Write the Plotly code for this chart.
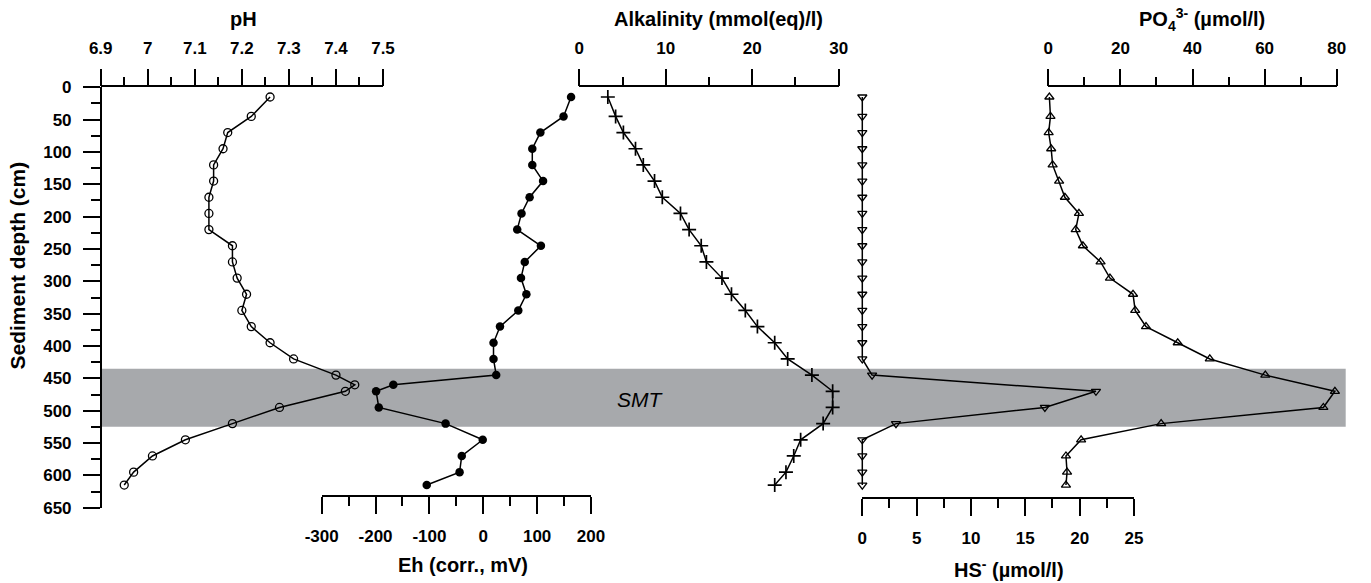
import plotly.graph_objects as go

W, H = 1371, 583

# ---------------- data ----------------
depth_ph = [15, 45, 70, 95, 120, 145, 170, 195, 220, 245, 270, 295, 320, 345, 370, 395, 420, 445,
            460, 470, 495, 520, 545, 570, 595, 615]
ph = [7.26, 7.22, 7.17, 7.16, 7.14, 7.14, 7.13, 7.13, 7.13, 7.18, 7.18, 7.19, 7.21, 7.20, 7.22, 7.26,
      7.31, 7.40, 7.44, 7.42, 7.28, 7.18, 7.08, 7.01, 6.97, 6.95]

depth_eh = [15, 45, 70, 95, 120, 145, 170, 195, 220, 245, 270, 295, 320, 345, 370, 395, 420, 445,
            460, 470, 495, 520, 545, 570, 595, 615]
eh = [163, 149, 106, 91, 91, 111, 86, 71, 63, 107, 77, 70, 80, 65, 31, 19, 19, 24,
      -167, -199, -194, -70, -1, -40, -44, -105]

depth_alk = [15, 45, 70, 95, 120, 145, 170, 195, 220, 245, 270, 295, 320, 345, 370, 395, 420, 445,
             470, 495, 520, 545, 570, 595, 615]
alk = [3.3, 4.2, 5.1, 6.5, 7.4, 8.7, 9.6, 11.7, 12.7, 14.1, 14.7, 16.5, 17.6, 19.2, 20.6, 22.6, 24.1,
       26.9, 29.3, 29.3, 28.2, 25.6, 24.8, 23.9, 22.6]

depth_hs = [15, 45, 70, 95, 120, 145, 170, 195, 220, 245, 270, 295, 320, 345, 370, 395, 420, 445,
            470, 495, 520, 545, 570, 595, 615]
hs = [0, 0, 0, 0, 0, 0, 0, 0, 0, 0, 0, 0, 0, 0, 0, 0, 0, 0.9,
      21.5, 16.8, 3.1, 0, 0, 0, 0]

depth_po4 = [15, 45, 70, 95, 120, 145, 170, 195, 220, 245, 270, 295, 320, 345, 370, 395, 420, 445,
             470, 495, 520, 545, 570, 595, 615]
po4 = [0.3, 0.6, 0.1, 0.8, 1.2, 3.0, 4.6, 8.5, 7.6, 9.6, 14.5, 17.1, 23.5, 24.1, 27.1, 35.9, 44.8,
       60.2, 79.5, 76.3, 31.3, 9.1, 4.9, 5.2, 4.9]

smt_top, smt_bottom = 435, 525

# axis ranges / ticks
ph_range = [6.9, 7.5]
ph_ticks = [6.9, 7.0, 7.1, 7.2, 7.3, 7.4, 7.5]
ph_labels = ["6.9", "7", "7.1", "7.2", "7.3", "7.4", "7.5"]

alk_range = [0, 30]
alk_ticks = [0, 10, 20, 30]
alk_labels = ["0", "10", "20", "30"]

po4_range = [0, 80]
po4_ticks = [0, 20, 40, 60, 80]
po4_labels = ["0", "20", "40", "60", "80"]

eh_range = [-300, 200]
eh_ticks = [-300, -200, -100, 0, 100, 200]
eh_labels = ["-300", "-200", "-100", "0", "100", "200"]

hs_range = [0, 25]
hs_ticks = [0, 5, 10, 15, 20, 25]
hs_labels = ["0", "5", "10", "15", "20", "25"]

depth_range = [650, 0]
depth_ticks = [0, 50, 100, 150, 200, 250, 300, 350, 400, 450, 500, 550, 600, 650]
depth_labels = [str(v) for v in depth_ticks]

# ---------------- layout geometry (pixels) ----------------
Y_TOP, Y_BOT = 87.3, 507.7
Y_AXIS_X = 100.7
ph_px = (100.7, 383.0)
alk_px = (579.3, 838.7)
po4_px = (1048.3, 1336.7)
eh_px = (321.7, 591.0)
hs_px = (862.3, 1134.0)
EH_AXIS_Y = 496.0
HS_AXIS_Y = 498.0

FONT = "Liberation Sans, Arial, Helvetica, sans-serif"
tickfont = dict(family=FONT, size=17, color="black")


def fx(px):
    return px / W


def fy(py):
    return 1 - py / H


def bold(labels):
    return ["<b>%s</b>" % t for t in labels]


def midpoints(ticks):
    # minor ticks halfway between major ticks
    return [(a + b) / 2 for a, b in zip(ticks[:-1], ticks[1:])]


def minor_cfg(ticks):
    return dict(tickmode="array", tickvals=midpoints(ticks), ticks="outside", ticklen=9,
                tickwidth=1.5, tickcolor="black", showgrid=False)


def vis_xaxis(dom, rng, ticks, labels, side, pos_py=None):
    ax = dict(domain=[fx(dom[0]), fx(dom[1])], range=rng, showgrid=False, zeroline=False,
              automargin=False, showline=True, linecolor="black", linewidth=1.5,
              ticks="outside", ticklen=17, tickwidth=1.5, tickcolor="black",
              tickmode="array", tickvals=ticks, ticktext=bold(labels), tickfont=tickfont,
              side=side, fixedrange=True, ticklabelstandoff=8, minor=minor_cfg(ticks))
    if pos_py is None:
        ax["anchor"] = "y"
    else:
        ax["anchor"] = "free"
        ax["position"] = fy(pos_py)
    return ax


def hidden_xaxis(dom, rng, pad=30):
    scale = (dom[1] - dom[0]) / (rng[1] - rng[0])
    return dict(domain=[fx(dom[0] - pad), fx(dom[1] + pad)],
                range=[rng[0] - pad / scale, rng[1] + pad / scale], automargin=False,
                visible=False, anchor="y", fixedrange=True, showgrid=False, zeroline=False)


fig = go.Figure()

# empty traces so that every visible axis is drawn
for xa in ["x", "x2", "x3", "x4", "x5"]:
    fig.add_trace(go.Scatter(x=[None], y=[None], xaxis=xa, yaxis="y", showlegend=False,
                             hoverinfo="skip"))

line = dict(color="black", width=1.5)
fig.add_trace(go.Scatter(x=ph, y=depth_ph, xaxis="x6", yaxis="y", mode="lines+markers", line=line,
                         marker=dict(symbol="circle-open", size=8, color="black",
                                     line=dict(width=1.3, color="black")),
                         cliponaxis=False, showlegend=False, name="pH"))
fig.add_trace(go.Scatter(x=eh, y=depth_eh, xaxis="x7", yaxis="y", mode="lines+markers", line=line,
                         marker=dict(symbol="circle", size=8.5, color="black"),
                         cliponaxis=False, showlegend=False, name="Eh"))
fig.add_trace(go.Scatter(x=alk, y=depth_alk, xaxis="x8", yaxis="y", mode="lines+markers", line=line,
                         marker=dict(symbol="cross-thin", size=10, color="black",
                                     line=dict(width=1.7, color="black")),
                         cliponaxis=False, showlegend=False, name="Alkalinity"))
fig.add_trace(go.Scatter(x=hs, y=depth_hs, xaxis="x9", yaxis="y", mode="lines+markers", line=line,
                         marker=dict(symbol="triangle-down-open", size=8, color="black",
                                     line=dict(width=1.3, color="black")),
                         cliponaxis=False, showlegend=False, name="HS-"))
fig.add_trace(go.Scatter(x=po4, y=depth_po4, xaxis="x10", yaxis="y", mode="lines+markers", line=line,
                         marker=dict(symbol="triangle-up-open", size=8, color="black",
                                     line=dict(width=1.3, color="black")),
                         cliponaxis=False, showlegend=False, name="PO4"))

fig.update_layout(
    template="none",
    width=W, height=H, margin=dict(l=0, r=0, t=0, b=0, pad=0, autoexpand=False),
    paper_bgcolor="white", plot_bgcolor="rgba(0,0,0,0)", showlegend=False,
    xaxis=vis_xaxis(ph_px, ph_range, ph_ticks, ph_labels, "top"),
    xaxis2=vis_xaxis(alk_px, alk_range, alk_ticks, alk_labels, "top"),
    xaxis3=vis_xaxis(po4_px, po4_range, po4_ticks, po4_labels, "top"),
    xaxis4=vis_xaxis(eh_px, eh_range, eh_ticks, eh_labels, "bottom", EH_AXIS_Y),
    xaxis5=vis_xaxis(hs_px, hs_range, hs_ticks, hs_labels, "bottom", HS_AXIS_Y),
    xaxis6=hidden_xaxis(ph_px, ph_range),
    xaxis7=hidden_xaxis(eh_px, eh_range),
    xaxis8=hidden_xaxis(alk_px, alk_range),
    xaxis9=hidden_xaxis(hs_px, hs_range),
    xaxis10=hidden_xaxis(po4_px, po4_range),
    yaxis=dict(domain=[fy(Y_BOT), fy(Y_TOP)], range=depth_range, anchor="free", position=fx(Y_AXIS_X),
               automargin=False, showgrid=False, zeroline=False, showline=True, linecolor="black",
               linewidth=1.5, ticks="outside", ticklen=17, tickwidth=1.5, tickcolor="black",
               tickmode="array", tickvals=depth_ticks, ticktext=bold(depth_labels),
               tickfont=tickfont, fixedrange=True, ticklabelstandoff=8,
               minor=minor_cfg(depth_ticks)),
    shapes=[dict(type="rect", xref="paper", yref="y", x0=fx(Y_AXIS_X), x1=fx(1345.7),
                 y0=smt_top, y1=smt_bottom, fillcolor="#A7A9AC", line=dict(width=0), layer="below")],
)

annots = [
    ("pH", 243.7, 19, 0, 20),
    ("Alkalinity (mmol(eq)/l)", 718, 19, 0, 20),
    ("PO<sub>4</sub><sup>3-</sup> (µmol/l)", 1202, 19, 0, 20),
    ("Eh (corr., mV)", 462.5, 565, 0, 20),
    ("HS<sup>-</sup> (µmol/l)", 1009, 568, 0, 20),
    ("Sediment depth (cm)", 16.5, 266, -90, 21),
]
for text, px, py, ang, size in annots:
    fig.add_annotation(text="<b>%s</b>" % text, x=fx(px), y=fy(py), xref="paper", yref="paper",
                       showarrow=False, xanchor="center", yanchor="middle", textangle=ang,
                       font=dict(family=FONT, size=size, color="black"))

fig.add_annotation(text="<i>SMT</i>", x=fx(640), y=fy(399), xref="paper", yref="paper",
                   showarrow=False, xanchor="center", yanchor="middle",
                   font=dict(family=FONT, size=21, color="black"))

fig.write_html("out.html")
